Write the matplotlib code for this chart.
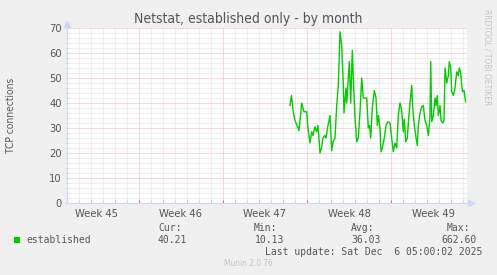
import matplotlib
matplotlib.use("Agg")
import matplotlib.pyplot as plt
from matplotlib.patches import Rectangle
from matplotlib import font_manager as fm
import matplotlib.transforms as mtransforms

# ---- data (time in days since Sun 2025-11-09 00:00) ----
time_days = [12.583, 12.708, 12.833, 13.0, 13.167, 13.333, 13.458, 13.558, 13.667, 13.75,
             13.975, 14.058, 14.167, 14.25, 14.392, 14.5, 14.583, 14.667, 14.792, 14.917,
             15.083, 15.208, 15.333, 15.458, 15.583, 15.75, 15.917, 16.058, 16.167, 16.333,
             16.475, 16.608, 16.75, 16.892, 17.025, 17.083, 17.25, 17.308, 17.442, 17.525,
             17.642, 17.775, 17.858, 18.0, 18.142, 18.275, 18.417, 18.558, 18.692, 18.833,
             18.975, 19.108, 19.208, 19.308, 19.442, 19.608, 19.75, 19.858, 19.958, 20.083,
             20.167, 20.275, 20.442, 20.583, 20.725, 20.917, 21.058, 21.192, 21.333, 21.475,
             21.608, 21.75, 21.892, 22.025, 22.108, 22.225, 22.358, 22.442, 22.583, 22.725,
             22.808, 22.942, 23.058, 23.192, 23.275, 23.417, 23.558, 23.692, 23.833, 23.975,
             24.108, 24.25, 24.308, 24.392, 24.525, 24.667, 24.75, 24.858, 24.942, 25.083,
             25.167, 25.308, 25.417, 25.5, 25.642, 25.775, 25.858, 25.975, 26.058, 26.192,
             26.333, 26.475, 26.608, 26.692, 26.808, 26.892, 26.975, 27.083, 27.21]
established = [39, 43, 37, 33, 31, 29, 35, 40, 38, 36.5,
               36.5, 31, 27, 24, 28.5, 27, 29, 30.5, 28.5, 31,
               20, 22, 26, 27, 26, 31, 35, 21, 24.5, 26,
               39, 47, 68.5, 63, 47, 36, 46, 40, 50, 56.5,
               40, 61, 50, 34, 24.5, 26, 36.5, 50, 42, 42,
               42, 30, 31, 26, 38, 45, 42, 31, 35, 30,
               20.5, 22, 26, 31, 32.5, 32, 26, 20.5, 24, 22,
               35, 40, 37, 28.5, 33.5, 24.5, 26, 32, 40, 47,
               38, 31, 27, 23, 31, 36, 38.5, 39, 33, 31,
               27, 35, 56.5, 32.5, 35, 42, 39, 43, 35, 39,
               33, 32, 33, 54, 48, 51, 56.5, 54, 44.5, 43,
               46, 52.5, 51, 54, 52, 47, 44.5, 45, 40.5]

week_label_pos = [-3.5, 3.5, 10.5, 17.5, 24.5]
week_labels = ["Week 45", "Week 46", "Week 47", "Week 48", "Week 49"]
y_ticks = [0, 10, 20, 30, 40, 50, 60, 70]

legend_name = "established"
stat_names = ["Cur:", "Min:", "Avg:", "Max:"]
stat_values = ["40.21", "10.13", "36.03", "662.60"]

W, H = 497, 275
BACK = "#F0F0F0"
AXIS = "#CFD6F8"
FONT = "#555555"
GRID = "#E0E0E0"
MGRID = "#F2B0B0"
LINE = "#00CC00"

# condensed font if available
cond = [f.fname for f in fm.fontManager.ttflist if "SansCondensed.ttf" in f.fname]
if cond:
    sans = fm.FontProperties(fname=cond[0])
    csize = 1.0
else:
    sans = fm.FontProperties(family="DejaVu Sans")
    csize = 0.88

def fp(size):
    p = sans.copy()
    p.set_size(size)
    return p

fig = plt.figure(figsize=(W / 100, H / 100), dpi=100)
fig.patch.set_facecolor(BACK)
ax = fig.add_axes([66.5 / W, 72 / H, 400 / W, 175 / H])
ax.set_facecolor("white")
ax.set_xlim(-6.04, 27.29)
ax.set_ylim(0, 70)

# grid
for d in range(-6, 28):
    c = MGRID if d % 7 == 0 else GRID
    ax.axvline(d, color=c, lw=0.72, ls=(0, (1, 1)), zorder=1)
for yv in range(2, 71, 2):
    c = MGRID if yv % 10 == 0 else GRID
    ax.axhline(yv, color=c, lw=0.72, ls=(0, (1, 1)), zorder=1)

ax.plot(time_days, established, color=LINE, lw=1.0, zorder=3, solid_joinstyle="round")

for s in ["top", "right"]:
    ax.spines[s].set_visible(False)
for s in ["left", "bottom"]:
    ax.spines[s].set_color(AXIS)
    ax.spines[s].set_linewidth(0.8)

ax.set_yticks(y_ticks)
ax.set_yticklabels([str(v) for v in y_ticks], fontproperties=fp(8 * csize), color=FONT)
ax.set_yticks(range(0, 71, 2), minor=True)
ax.tick_params(axis="y", which="major", length=3, direction="inout", color=AXIS, pad=2)
ax.tick_params(axis="y", which="minor", length=3, direction="inout", color=AXIS)

ax.set_xticks(week_label_pos)
ax.set_xticklabels(week_labels, fontproperties=fp(8 * csize), color=FONT)
ax.set_xticks(range(-6, 28), minor=True)
ax.tick_params(axis="x", which="major", length=0, pad=4)
ax.tick_params(axis="x", which="minor", length=2, direction="in", color="#C8C8C8")
ax.vlines([0, 7, 14, 21], 0, 3 / 175, transform=ax.get_xaxis_transform(),
          color="#E07070", lw=0.8, zorder=4)

# arrows
off_r = mtransforms.ScaledTranslation(4 / 100, 0, fig.dpi_scale_trans)
off_t = mtransforms.ScaledTranslation(0, 4 / 100, fig.dpi_scale_trans)
ax.plot([1.0], [0.0], marker=">", ms=4, color=AXIS, transform=ax.transAxes + off_r, clip_on=False)
ax.plot([0.0], [1.0], marker="^", ms=4, color=AXIS, transform=ax.transAxes + off_t, clip_on=False)
ax.plot([1.0, 1.0 + 5 / 400], [0, 0], color=AXIS, lw=0.8, transform=ax.transAxes, clip_on=False)
ax.plot([0, 0], [1.0, 1.0 + 5 / 175], color=AXIS, lw=0.8, transform=ax.transAxes, clip_on=False)

def ftext(x, y, s, **kw):
    return fig.text(x / W, 1 - y / H, s, **kw)

ftext(248, 19, "Netstat, established only - by month", fontproperties=fp(10.0 * csize),
      color=FONT, ha="center", va="center")
ftext(11, 115, "TCP connections", fontproperties=fp(7.3 * csize), color=FONT,
      rotation=90, ha="center", va="center")
ftext(487, 57, "RRDTOOL / TOBI OETIKER", fontproperties=fp(6 * csize), color="#C4C4C4",
      rotation=270, ha="center", va="center")

# legend
fig.add_artist(Rectangle((14 / W, 1 - 243 / H), 6 / W, 6 / H, transform=fig.transFigure,
                         facecolor=LINE, edgecolor="none"))
mono = dict(family="DejaVu Sans Mono", size=7, color=FONT, va="center")
ftext(26, 240, legend_name, ha="left", **mono)
name_x = [158, 254, 351, 447]
val_x = [158, 255, 351, 441]
for nx, vx, nm, vv in zip(name_x, val_x, stat_names, stat_values):
    ftext(nx, 228, nm, ha="left", **mono)
    ftext(vx, 240, vv, ha="left", **mono)
ftext(482, 252, "Last update: Sat Dec  6 05:00:02 2025", ha="right", **mono)
ftext(248, 264, "Munin 2.0.76", fontproperties=fp(6 * csize), color="#C4C4C4",
      ha="center", va="center")

fig.savefig("out.png", dpi=100, facecolor=BACK)
